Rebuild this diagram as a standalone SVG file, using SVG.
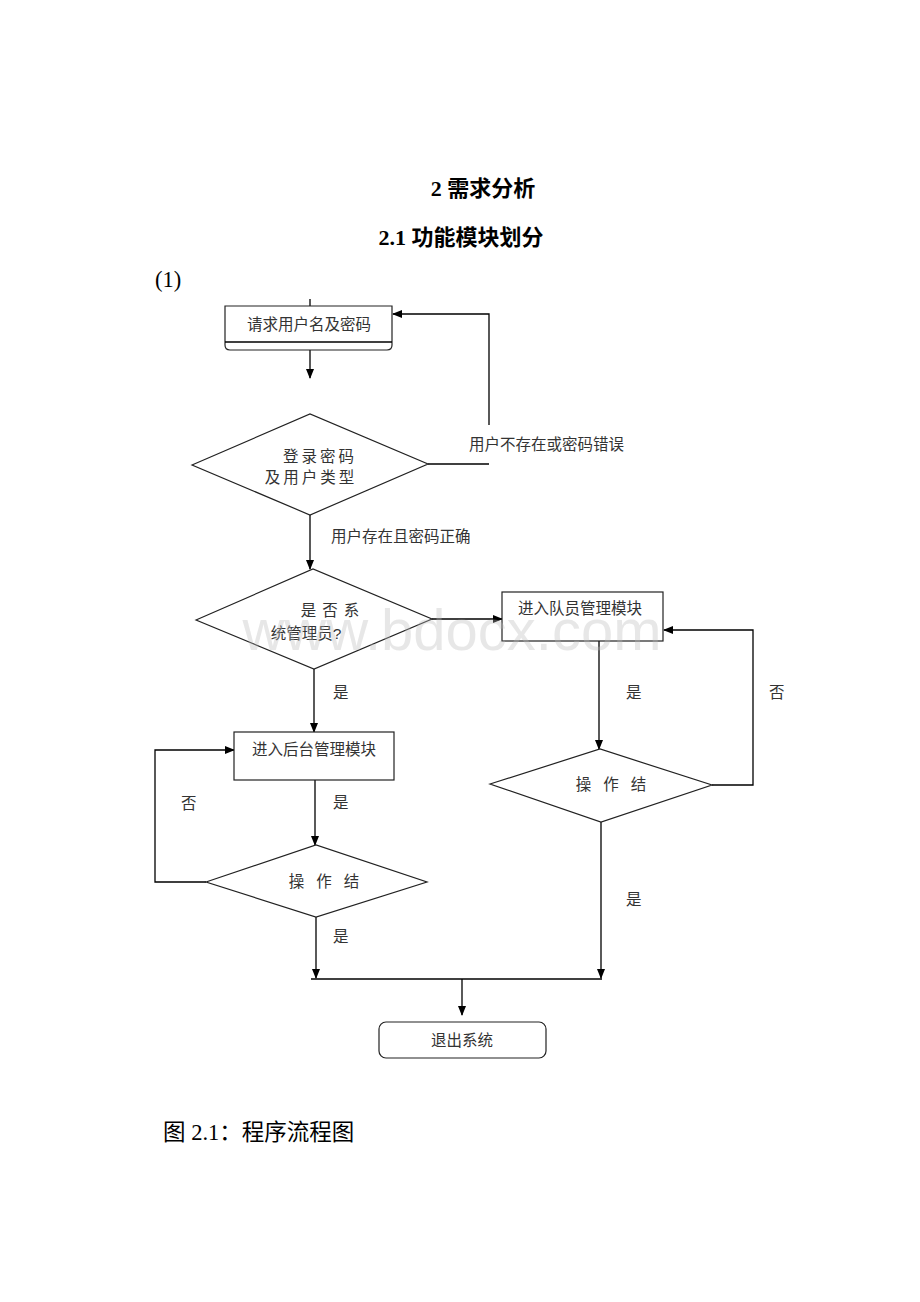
<svg xmlns="http://www.w3.org/2000/svg" width="920" height="1302" viewBox="0 0 920 1302">
<style>
.ln{fill:none;stroke:#000;stroke-width:1.3}
.sh{fill:#fff;stroke:#222;stroke-width:1.2}
.t{font-family:"Liberation Sans","Noto Sans CJK SC",sans-serif;font-size:15.5px;fill:#333}
.m{text-anchor:middle}
.h{font-family:"Liberation Serif","Noto Sans CJK SC",serif;font-size:22px;font-weight:bold;fill:#000;text-anchor:middle}
.c{font-family:"Liberation Serif","Noto Sans CJK SC",serif;font-size:22.5px;fill:#000}
</style>
<defs>
<marker id="ah" markerWidth="10" markerHeight="10" refX="9" refY="5" orient="auto" markerUnits="userSpaceOnUse">
<path d="M0,1 L10,5 L0,9 z" fill="#000"/>
</marker>
</defs>
<rect width="920" height="1302" fill="#fff"/>
<text class="h" x="483" y="196">2 需求分析</text>
<text class="h" x="461" y="245">2.1 功能模块划分</text>
<text class="c" x="155" y="287">(1)</text>

<g id="connectors">
<line class="ln" x1="310" y1="299" x2="310" y2="306"/>
<line class="ln" x1="310" y1="350" x2="310" y2="378" marker-end="url(#ah)"/>
<polyline class="ln" points="428,464 489,464"/>
<polyline class="ln" points="489,425 489,314 393,314" marker-end="url(#ah)"/>
<line class="ln" x1="310" y1="515" x2="310" y2="569" marker-end="url(#ah)"/>
<line class="ln" x1="432" y1="619" x2="502" y2="619" marker-end="url(#ah)"/>
<line class="ln" x1="314" y1="669" x2="314" y2="732" marker-end="url(#ah)"/>
<line class="ln" x1="599" y1="641" x2="599" y2="749" marker-end="url(#ah)"/>
<polyline class="ln" points="712,785 753,785 753,630 664,630" marker-end="url(#ah)"/>
<line class="ln" x1="315" y1="780" x2="315" y2="845" marker-end="url(#ah)"/>
<polyline class="ln" points="206,882 155,882 155,750 234,750" marker-end="url(#ah)"/>
<line class="ln" x1="316" y1="917" x2="316" y2="978" marker-end="url(#ah)"/>
<line class="ln" x1="601" y1="822" x2="601" y2="978" marker-end="url(#ah)"/>
<line class="ln" x1="311" y1="979" x2="602" y2="979"/>
<line class="ln" x1="462" y1="979" x2="462" y2="1015" marker-end="url(#ah)"/>
<text class="t" x="469" y="450">用户不存在或密码错误</text>
<text class="t" x="331" y="542">用户存在且密码正确</text>
<text class="t" x="333" y="698">是</text>
<text class="t" x="626" y="698">是</text>
<text class="t" x="769" y="698">否</text>
<text class="t" x="333" y="808">是</text>
<text class="t" x="181" y="809">否</text>
<text class="t" x="333" y="942">是</text>
<text class="t" x="626" y="905">是</text>
</g>

<g id="n1">
<path class="sh" d="M225,306 H392 V345 Q392,350 387,350 H230 Q225,350 225,345 Z"/>
<line class="ln" x1="225" y1="342" x2="392" y2="342" stroke-width="1"/>
<text class="t m" x="309" y="330">请求用户名及密码</text>
</g>
<g id="n2">
<polygon class="sh" points="192,465 310,414 428,464 310,515"/>
<text class="t m" x="320" y="462" letter-spacing="3">登录密码</text>
<text class="t m" x="311" y="483" letter-spacing="3">及用户类型</text>
</g>
<g id="n3">
<polygon class="sh" points="196,620 313,569 432,619 314,669"/>
<text class="t m" x="333" y="616" letter-spacing="6">是否系</text>
<text class="t m" x="306" y="639">统管理员?</text>
</g>
<g id="n4">
<rect class="sh" x="502" y="592" width="161" height="49"/>
<text class="t m" x="580" y="614">进入队员管理模块</text>
</g>
<g id="n5">
<rect class="sh" x="234" y="732" width="160" height="48"/>
<text class="t m" x="314" y="755">进入后台管理模块</text>
</g>
<g id="n6">
<polygon class="sh" points="206,882 316,845 427,882 316,917"/>
<text class="t m" x="330" y="887" letter-spacing="12">操作结</text>
</g>
<g id="n7">
<polygon class="sh" points="490,784 600,749 712,785 601,822"/>
<text class="t m" x="617" y="790" letter-spacing="12">操作结</text>
</g>
<g id="n8">
<rect class="sh" x="379" y="1022" width="167" height="36" rx="7"/>
<text class="t m" x="462" y="1046">退出系统</text>
</g>

<text x="452" y="650" font-family="Liberation Sans,sans-serif" font-size="58" fill="#bbb" fill-opacity="0.35" text-anchor="middle">www.bdocx.com</text>

<text class="c" x="163" y="1140">图 2.1：程序流程图</text>
</svg>
